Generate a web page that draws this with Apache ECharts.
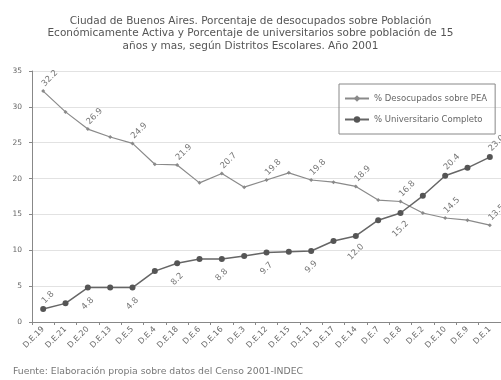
<!DOCTYPE html>
<html>
<head>
<meta charset="utf-8">
<script src="https://cdn.jsdelivr.net/npm/echarts@6/dist/echarts.min.js"></script>
<style>
  html, body { margin: 0; padding: 0; background: #fff; }
  #chart { width: 501px; height: 380px; }
</style>
</head>
<body>
<div id="chart"></div>
<script>
// distritos escolares, ordenados por desocupacion
const categorias = ['D.E.19', 'D.E.21', 'D.E.20', 'D.E.13', 'D.E.5', 'D.E.4', 'D.E.18', 'D.E.6', 'D.E.16', 'D.E.3',
  'D.E.12', 'D.E.15', 'D.E.11', 'D.E.17', 'D.E.14', 'D.E.7', 'D.E.8', 'D.E.2', 'D.E.10', 'D.E.9', 'D.E.1']
const desocupados = [32.2, 29.3, 26.9, 25.8, 24.9, 22.0, 21.9, 19.4, 20.7, 18.8,
  19.8, 20.8, 19.8, 19.5, 18.9, 17.0, 16.8, 15.2, 14.5, 14.2, 13.5]
const universitarios = [1.8, 2.6, 4.8, 4.8, 4.8, 7.1, 8.2, 8.8, 8.8, 9.2,
  9.7, 9.8, 9.9, 11.3, 12.0, 14.2, 15.2, 17.6, 20.4, 21.5, 23.0]
const yTicks = [0, 5, 10, 15, 20, 25, 30, 35]

const fuente = 'DejaVu Sans'
const chart = echarts.init(document.getElementById('chart'))

// solo se rotulan los puntos pares
const rotulo = p => (p.dataIndex % 2 === 0 ? p.value.toFixed(1) : '')

const dataUniv = universitarios.map((v, i) => {
  const arriba = i === 0 || i >= 18
  return {
    value: v,
    label: arriba
      ? { position: 'top', align: 'left', distance: 4 }
      : { position: 'bottom', align: 'center', distance: 13 }
  }
})

const option = {
  backgroundColor: '#fff',
  animation: false,
  title: {
    text: 'Ciudad de Buenos Aires. Porcentaje de desocupados sobre Población\n' +
      'Económicamente Activa y Porcentaje de universitarios sobre población de 15\n' +
      'años y mas, según Distritos Escolares. Año 2001',
    left: 'center',
    top: 10,
    textStyle: { fontSize: 10.5, fontWeight: 'normal', color: '#555', lineHeight: 12.5, fontFamily: fuente, align: 'center' }
  },
  legend: {
    orient: 'vertical',
    left: 339,
    top: 84,
    width: 158,
    padding: [10, 8, 10, 5],
    itemGap: 12,
    itemWidth: 24,
    itemHeight: 8,
    borderColor: '#888',
    borderWidth: 1,
    textStyle: { fontSize: 8.5, color: '#666', fontFamily: fuente }
  },
  grid: { left: 32, top: 71, bottom: 58, right: -7, containLabel: false },
  xAxis: {
    type: 'category',
    data: categorias,
    boundaryGap: true,
    axisLine: { lineStyle: { color: '#888' } },
    axisTick: { show: true, length: 3, lineStyle: { color: '#888' } },
    axisLabel: { interval: 0, rotate: 45, fontSize: 8, color: '#666', margin: 6, fontFamily: fuente }
  },
  yAxis: {
    type: 'value',
    min: yTicks[0],
    max: yTicks[yTicks.length - 1],
    interval: 5,
    axisLine: { show: true, lineStyle: { color: '#888' } },
    axisTick: { show: true, length: 3, lineStyle: { color: '#888' } },
    axisLabel: { fontSize: 7.5, color: '#666', margin: 10, fontFamily: fuente },
    splitLine: { lineStyle: { color: '#e2e2e2' } }
  },
  series: [
    {
      name: '% Desocupados sobre PEA',
      type: 'line',
      data: desocupados,
      symbol: 'diamond',
      symbolSize: 4,
      itemStyle: { color: '#8a8a8a' },
      lineStyle: { color: '#8a8a8a', width: 1.2 },
      label: {
        show: true,
        formatter: rotulo,
        position: 'top',
        rotate: 45,
        align: 'left',
        verticalAlign: 'middle',
        distance: 4,
        fontSize: 8.5,
        color: '#777',
        fontFamily: fuente
      }
    },
    {
      name: '% Universitario Completo',
      type: 'line',
      data: dataUniv,
      symbol: 'circle',
      symbolSize: 6,
      itemStyle: { color: '#555' },
      lineStyle: { color: '#666', width: 1.5 },
      label: {
        show: true,
        formatter: rotulo,
        rotate: 45,
        verticalAlign: 'middle',
        fontSize: 8.5,
        color: '#777',
        fontFamily: fuente
      }
    }
  ],
  graphic: [
    {
      type: 'text',
      left: 13,
      top: 367,
      style: {
        text: 'Fuente: Elaboración propia sobre datos del Censo 2001-INDEC',
        fontSize: 9.3,
        fill: '#777',
        fontFamily: fuente
      }
    }
  ]
}

chart.setOption(option)
</script>
</body>
</html>
